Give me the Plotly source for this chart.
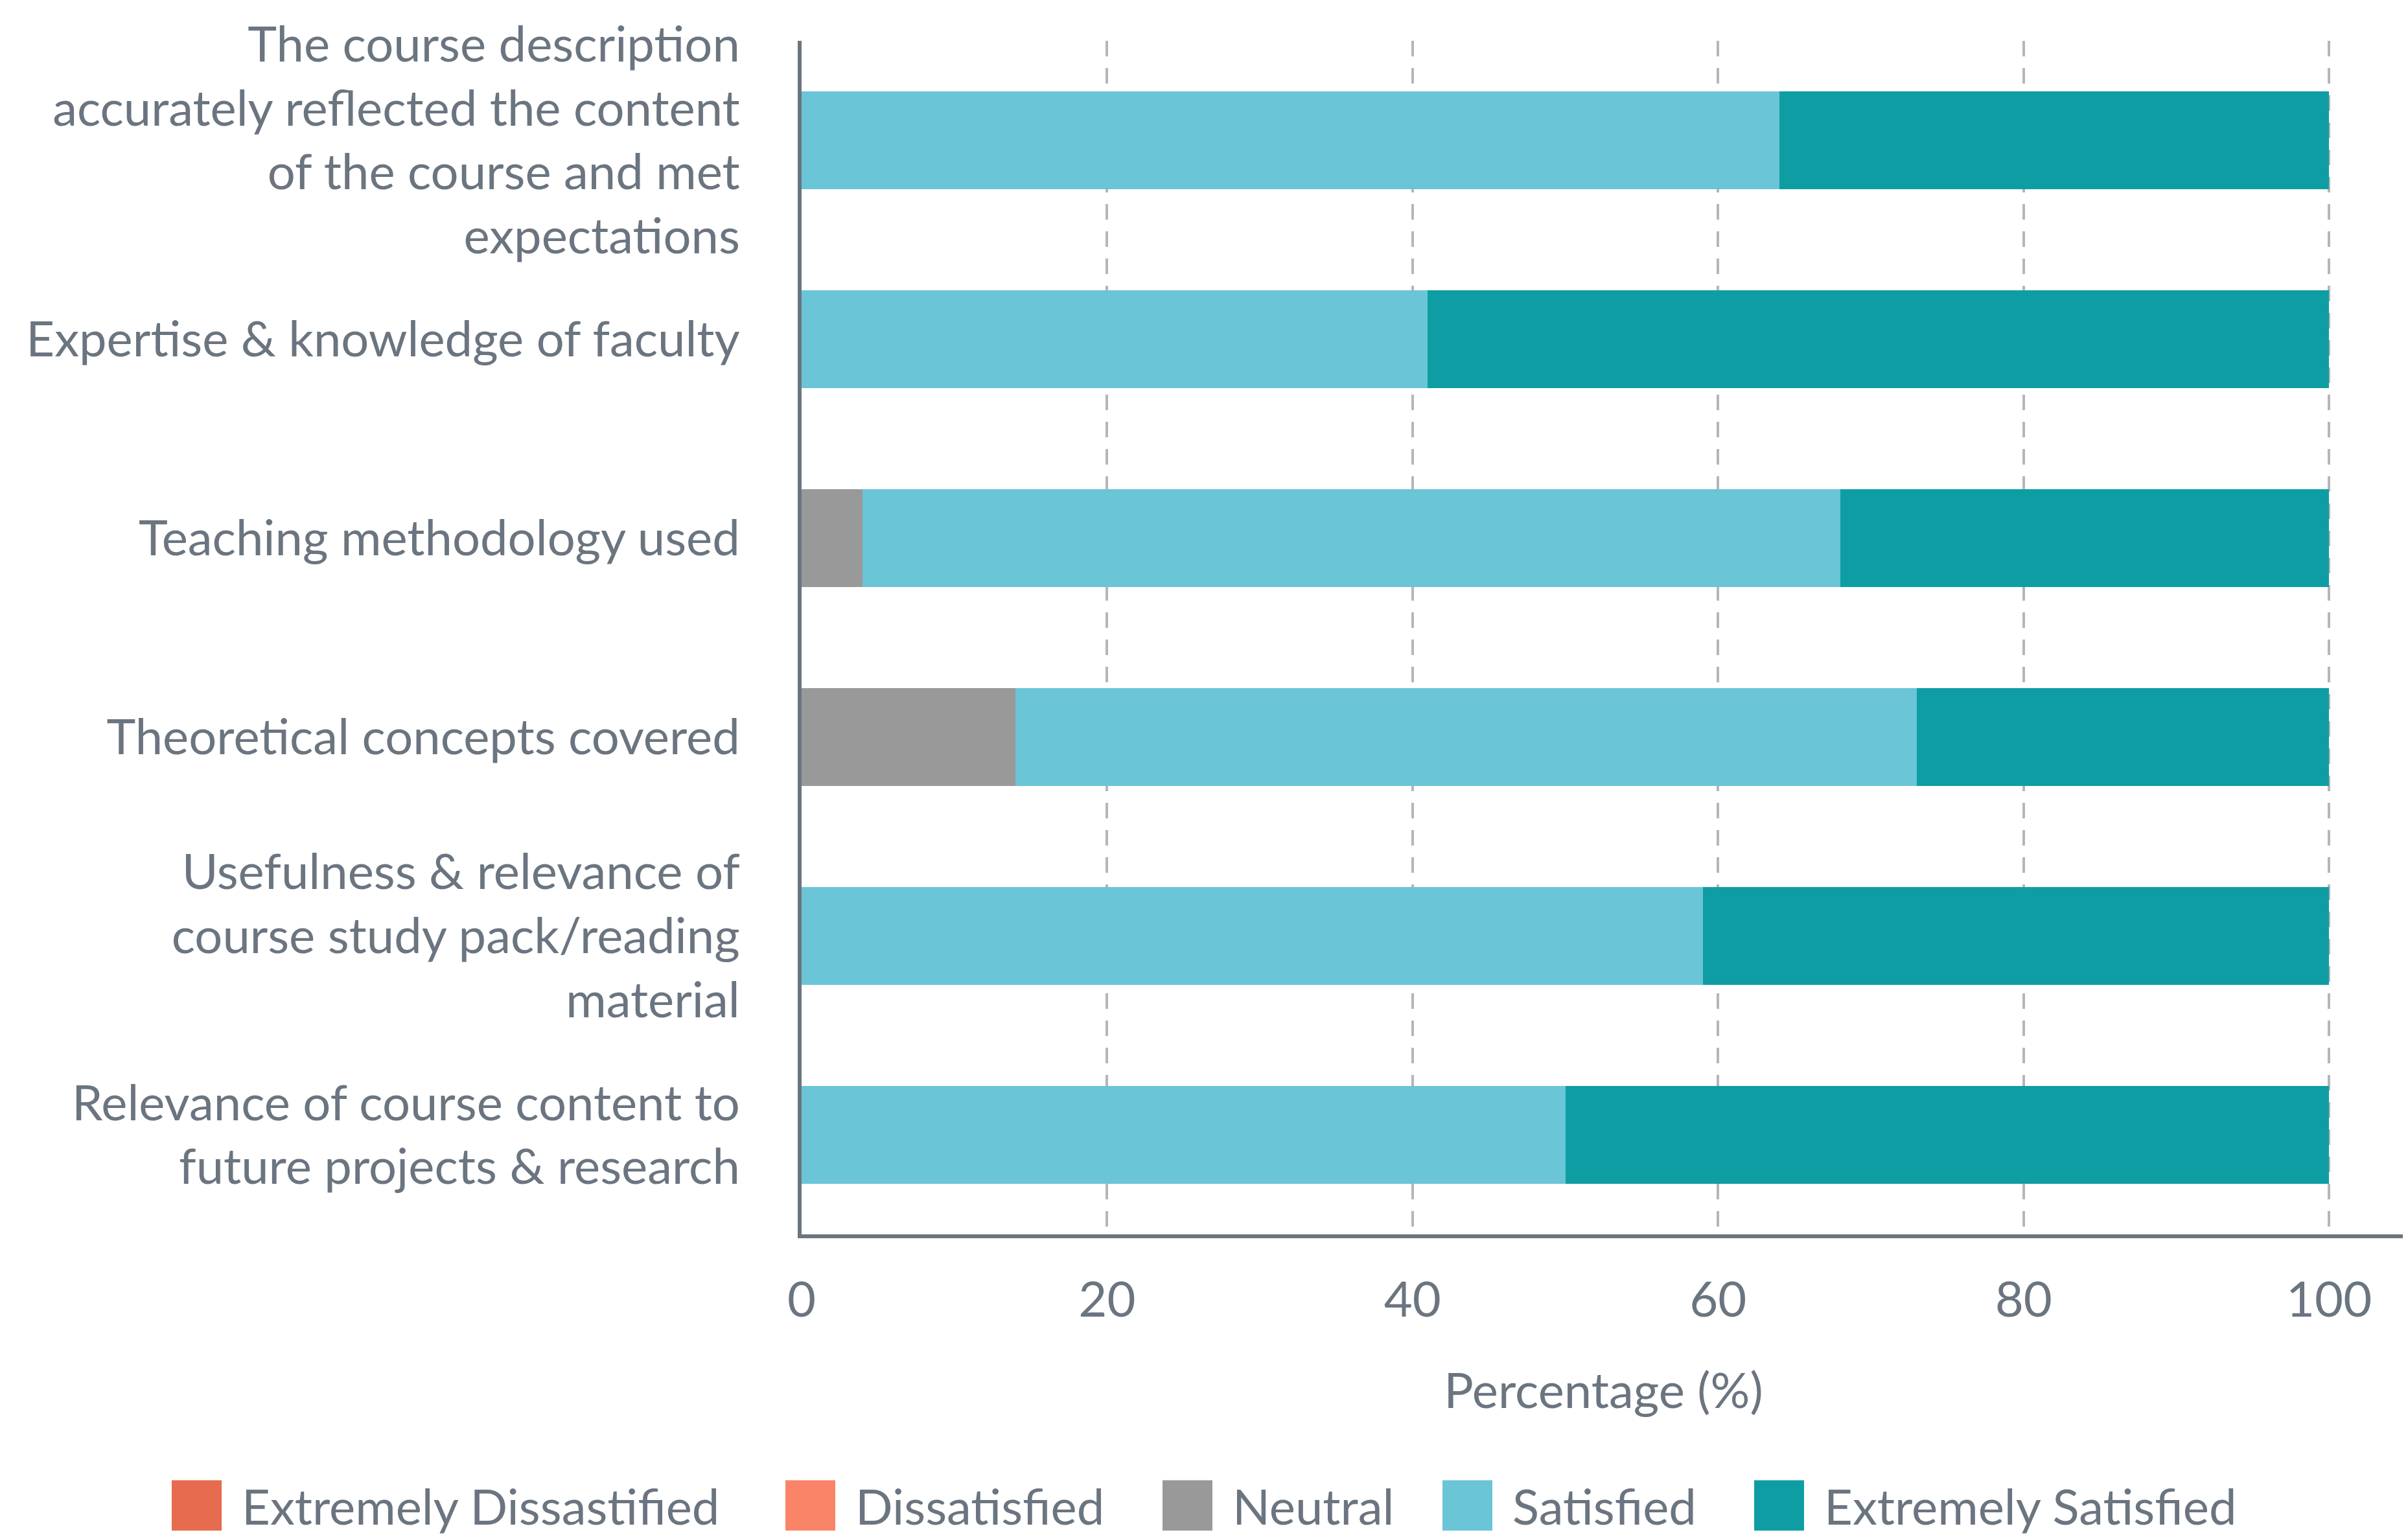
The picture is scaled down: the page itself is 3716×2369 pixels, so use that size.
import plotly.graph_objects as go

# survey items, top to bottom
items = [
    "The course description<br>accurately reflected the content<br>of the course and met<br>expectations",
    "Expertise & knowledge of faculty",
    "Teaching methodology used",
    "Theoretical concepts covered",
    "Usefulness & relevance of<br>course study pack/reading<br>material",
    "Relevance of course content to<br>future projects & research",
]

levels = ["Extremely Dissastified", "Dissatisfied", "Neutral", "Satisfied", "Extremely Satisfied"]

extremely_dissatisfied = [0, 0, 0, 0, 0, 0]
dissatisfied = [0, 0, 0, 0, 0, 0]
neutral = [0, 0, 4, 14, 0, 0]
satisfied = [64, 41, 64, 59, 59, 50]
extremely_satisfied = [36, 59, 32, 27, 41, 50]

colors = ["#E76B4E", "#FA8467", "#999999", "#6AC5D7", "#0F9DA4"]
series = [extremely_dissatisfied, dissatisfied, neutral, satisfied, extremely_satisfied]

TEXT = "#6B7580"
FONT = "Lato"
FS = 76

W, H = 3716, 2369
L, R, T, B = 1229, 12, 52, 472
plot_w = W - L - R
plot_h = H - T - B

fig = go.Figure()
for name, vals, col in zip(levels, series, colors):
    fig.add_trace(go.Bar(
        y=items, x=vals, name=name, orientation="h",
        marker=dict(color=col, line=dict(width=0)),
        showlegend=False,
    ))

fig.update_layout(
    barmode="stack",
    bargap=0.51,
    width=W, height=H,
    margin=dict(l=L, r=R, t=T, b=B, pad=0),
    plot_bgcolor="white",
    paper_bgcolor="white",
    font=dict(family=FONT, size=FS, color=TEXT),
)

fig.update_xaxes(
    range=[0, 105],
    tickvals=[0, 20, 40, 60, 80, 100],
    showgrid=True, gridcolor="#B4B6BA", gridwidth=4, griddash="24px,18px",
    zeroline=False,
    showline=True, linecolor=TEXT, linewidth=6,
    ticks="", ticklabelstandoff=30,
    title=dict(text="Percentage (%)", standoff=75, font=dict(size=FS, color=TEXT)),
)
fig.update_yaxes(
    autorange="reversed",
    showgrid=False, zeroline=False,
    showline=True, linecolor=TEXT, linewidth=6,
    ticks="", ticklabelstandoff=74,
)

# legend drawn as swatches + labels below the plot
swatch_left = [257, 1204, 1786, 2218, 2699]
sw, sh, cy = 77, 78, 2316
for name, col, x0 in zip(levels, colors, swatch_left):
    fig.add_shape(
        type="rect", xref="paper", yref="paper",
        x0=(x0 - L) / plot_w, x1=(x0 + sw - L) / plot_w,
        y0=(H - B - (cy + sh / 2)) / plot_h, y1=(H - B - (cy - sh / 2)) / plot_h,
        fillcolor=col, line=dict(width=0),
    )
    fig.add_annotation(
        xref="paper", yref="paper",
        x=(x0 + 106 - L) / plot_w, y=(H - B - cy) / plot_h,
        xanchor="left", yanchor="middle",
        text=name, showarrow=False,
        font=dict(family=FONT, size=FS, color=TEXT),
    )

fig.write_html("out.html")
